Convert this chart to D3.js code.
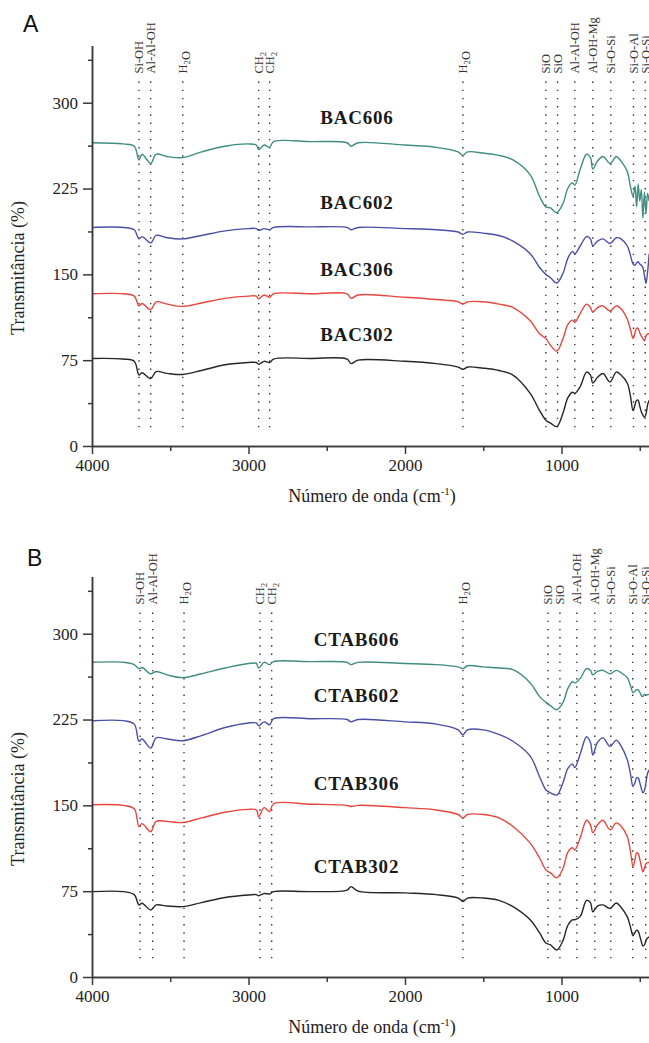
<!DOCTYPE html>
<html>
<head>
<meta charset="utf-8">
<script src="https://cdn.jsdelivr.net/npm/d3@7/dist/d3.min.js"></script>
<style>
  body { margin: 0; background: #fff; }
  svg { display: block; }
  .tick text { font-family: "Liberation Serif", "DejaVu Serif", serif; font-size: 17px; fill: #222; }
  .domain, .tick line { stroke: #3a3a3a; stroke-width: 1.5; }
</style>
</head>
<body>
<svg id="chart" width="649" height="1043"></svg>
<script>
// wavenumber grid (cm-1) shared by all spectra
const wavenumbers = [4000, 3800, 3730, 3700, 3680, 3625, 3590, 3520, 3420, 3300, 3150, 3000, 2950, 2935, 2900, 2865, 2840, 2600, 2370, 2345, 2300, 2000, 1800, 1660, 1630, 1600, 1500, 1400, 1310, 1200, 1140, 1100, 1070, 1030, 990, 960, 930, 915, 880, 840, 815, 800, 770, 735, 690, 650, 620, 580, 560, 543, 530, 520, 510, 500, 490, 480, 470, 460, 450, 440];

// panel A
const bac606 = [265, 264, 262, 250, 255, 247, 255, 253, 252, 257, 262, 264, 263, 259, 263, 261, 266, 266, 265, 262, 265, 263, 261, 257, 254, 257, 256, 254, 250, 237, 218, 209, 208, 204, 212, 225, 230, 228, 242, 255, 252, 242, 249, 253, 247, 253, 249, 240, 227, 218, 227, 209, 229, 214, 224, 199, 222, 203, 221, 214];
const bac602 = [191, 191, 189, 181, 183, 177.5, 184, 182, 181, 184, 188, 190, 190, 188.5, 190, 189, 191, 191.5, 191, 189, 191, 190, 189, 187, 185, 187, 186, 184, 179, 168, 156, 150, 147, 142.5, 151, 164, 170, 168, 175, 183, 181, 175, 179, 181, 177, 182, 181, 175, 167, 159, 158, 160, 161, 159, 158, 156, 149, 142, 152, 168];
const bac306 = [133, 133, 131, 122.5, 124.5, 119, 126, 124, 122, 125, 129, 131, 131, 128.6, 132, 130, 133, 133, 133, 129, 132, 130, 128, 126, 124, 126, 126, 124, 121, 109.5, 98, 94, 88, 83, 94, 106, 110, 108, 116, 124, 121, 117, 121, 122.5, 118, 122.5, 120, 111, 102, 94, 99, 103, 102.5, 99, 96, 94, 92, 96, 98, 98];
const bac302 = [76.5, 76, 74, 62, 64, 59, 65, 63.5, 62.5, 66, 71, 73, 73, 71.5, 74, 73, 76, 76.5, 76, 72, 75, 74, 72, 69, 67, 69, 68, 66, 62, 46, 31, 22.6, 20, 17, 29, 42, 47, 46, 52, 64.6, 62, 55, 60, 63.4, 56, 64.6, 62, 55, 44, 31, 36, 40, 40, 35, 30, 27, 25, 28, 36, 40];

// panel B
const ctab606 = [275, 275, 273, 269.5, 270.5, 265, 267, 264, 261.6, 265, 270, 274, 274, 270, 275, 273, 275.6, 275.6, 275, 273, 275, 274, 273, 271, 269.5, 272, 271, 270, 268.6, 257, 245, 240, 237, 233.6, 240, 252, 258, 257, 261, 269.5, 268, 264, 267, 268, 265, 268, 266, 261.6, 255, 248.5, 250, 251, 251, 249, 246, 245, 247, 246.5, 246.7, 247];
const ctab602 = [224, 224, 221, 206, 208, 200, 209, 208, 206.5, 211, 218, 222, 222, 219.6, 223, 220.5, 225.7, 225.7, 225, 223, 225, 223, 221, 216, 211.7, 216, 216, 212, 206, 193, 175, 163.6, 161, 159, 170, 182, 186, 183, 195, 210, 205, 194, 205, 209, 201.5, 207, 202, 190, 178, 166.5, 170, 174, 174, 170, 165, 161, 163, 170, 178, 181];
const ctab306 = [150.5, 150, 147, 131.5, 134, 127, 136, 136, 135, 139, 144, 146.5, 146, 140, 148, 144.6, 151.4, 151, 150, 149, 150, 148, 146, 142, 139, 142, 142, 139, 131.5, 117, 104, 93.6, 91, 86.6, 95, 109, 113, 111, 122, 137, 133, 126, 133, 137, 128.6, 134.7, 132, 122.7, 110, 96.5, 103, 108.5, 108, 103, 97, 92, 95, 99, 100, 100];
const ctab302 = [74.6, 74.6, 72, 63, 64.5, 58.6, 63, 62, 61.5, 65, 69.5, 71.7, 72, 71, 73, 72.5, 74.6, 74.6, 76, 79, 75, 73.5, 72, 69, 66, 69, 69, 67, 61.5, 50, 38.5, 29.7, 28, 23.6, 32, 45, 50, 50, 53, 67, 65, 57, 62, 63, 60, 64.7, 61, 52.8, 44, 36, 39, 41, 40, 36, 31, 27, 28, 32, 34, 35];

// band assignments (dotted lines)
const bandNames = ["Si-OH", "Al-Al-OH", "H2O", "CH2", "CH2", "H2O", "SiO", "SiO", "Al-Al-OH", "Al-OH-Mg", "Si-O-Si", "Si-O-Al", "Si-O-Si"];
const bandsA = [3700, 3625, 3420, 2935, 2865, 1630, 1100, 1025, 915, 800, 685, 540, 465];
const bandsB = [3693, 3612, 3412, 2927, 2852, 1630, 1087, 1010, 902, 787, 685, 545, 462];

const namesA = ["BAC606", "BAC602", "BAC306", "BAC302"];
const namesB = ["CTAB606", "CTAB602", "CTAB306", "CTAB302"];
// where each sample name sits (wavenumber, transmittance)
const nameSpotsA = [[2307, 281.5], [2307, 207], [2307, 148.6], [2307, 92]];
const nameSpotsB = [[2310, 289], [2310, 240], [2310, 163.6], [2310, 91]];

const yMajor = [0, 75, 150, 225, 300];
const yMinor = [37.5, 112.5, 187.5, 262.5, 337.5];
const xMajor = [4000, 3000, 2000, 1000];
const xMinor = [3500, 2500, 1500, 500];

const colors = ["#3f8c80", "#4a4fa6", "#e8453c", "#262626"];
const serif = '"Liberation Serif", "DejaVu Serif", serif';

const svg = d3.select("#chart");

const x = d3.scaleLinear().domain([4000, 0]).range([92, 718]);

function subText(sel, label, shift) {
  // digits become subscripts
  const parts = label.split(/(\d)/).filter(p => p !== "");
  parts.forEach(p => {
    if (/\d/.test(p)) {
      sel.append("tspan").attr("dy", shift).attr("font-size", "0.7em").text(p);
      sel.append("tspan").attr("dy", -shift).text("");
    } else {
      sel.append("tspan").text(p);
    }
  });
}

function drawPanel(p) {
  const y = d3.scaleLinear().domain([0, 350]).range([p.bottom, p.bottom - 400.5]);
  const g = svg.append("g");
  const top = y(350);

  // dotted band lines + labels
  p.bands.forEach((wn, i) => {
    const bx = x(wn);
    g.append("line")
      .attr("x1", bx).attr("x2", bx)
      .attr("y1", top + 36).attr("y2", p.bottom - 13)
      .attr("stroke", "#333").attr("stroke-width", 1.4)
      .attr("stroke-dasharray", "1.4 6.8");
    const t = g.append("text")
      .attr("transform", `translate(${bx},${top + 28}) rotate(-90)`)
      .attr("dy", "0.35em")
      .attr("font-family", serif).attr("font-size", 12.5).attr("fill", "#333");
    subText(t, bandNames[i], 3);
  });

  // spectra
  const line = d3.line()
    .x(d => x(d[0]))
    .y(d => y(d[1]))
    .curve(d3.curveCatmullRom.alpha(0.5));

  p.series.forEach((vals, i) => {
    g.append("path")
      .datum(d3.zip(wavenumbers, vals))
      .attr("fill", "none")
      .attr("stroke", colors[i])
      .attr("stroke-width", 1.4)
      .attr("stroke-linejoin", "round")
      .attr("d", line);
  });

  // sample names
  p.names.forEach((n, i) => {
    g.append("text")
      .attr("x", x(p.spots[i][0])).attr("y", y(p.spots[i][1]))
      .attr("text-anchor", "middle")
      .attr("font-family", serif).attr("font-weight", "bold")
      .attr("font-size", 19).attr("letter-spacing", 0.8)
      .attr("fill", "#1a1a1a")
      .text(n);
  });

  // axes
  g.append("g").attr("transform", "translate(92,0)")
    .call(d3.axisLeft(y).tickValues(yMinor).tickSize(4).tickSizeOuter(0).tickFormat(""));
  g.append("g").attr("transform", "translate(92,0)")
    .call(d3.axisLeft(y).tickValues(yMajor).tickSize(9).tickSizeOuter(0).tickPadding(5).tickFormat(d3.format("d")));
  g.append("g").attr("transform", `translate(0,${p.bottom})`)
    .call(d3.axisBottom(x).tickValues(xMinor).tickSize(5).tickSizeOuter(0).tickFormat(""));
  g.append("g").attr("transform", `translate(0,${p.bottom})`)
    .call(d3.axisBottom(x).tickValues(xMajor).tickSize(8).tickSizeOuter(0).tickPadding(5).tickFormat(d3.format("d")));

  // titles
  const xt = g.append("text")
    .attr("x", 372).attr("y", p.bottom + 56)
    .attr("text-anchor", "middle")
    .attr("font-family", serif).attr("font-size", 18).attr("fill", "#222");
  xt.append("tspan").text("Número de onda (cm");
  xt.append("tspan").attr("dy", -7).attr("font-size", 11).text("-1");
  xt.append("tspan").attr("dy", 7).text(")");

  g.append("text")
    .attr("transform", `translate(24,${p.bottom - 178}) rotate(-90)`)
    .attr("text-anchor", "middle")
    .attr("font-family", serif).attr("font-size", 18).attr("fill", "#222")
    .text("Transmitância (%)");

  g.append("text")
    .attr("x", p.letterX).attr("y", p.letterY)
    .attr("font-family", '"Liberation Sans", Arial, sans-serif')
    .attr("font-size", 23).attr("fill", "#111")
    .text(p.letter);
}

drawPanel({ letter: "A", letterX: 23, letterY: 32, bottom: 446,
  series: [bac606, bac602, bac306, bac302], names: namesA, spots: nameSpotsA, bands: bandsA });
drawPanel({ letter: "B", letterX: 27, letterY: 566, bottom: 977,
  series: [ctab606, ctab602, ctab306, ctab302], names: namesB, spots: nameSpotsB, bands: bandsB });
</script>
</body>
</html>
